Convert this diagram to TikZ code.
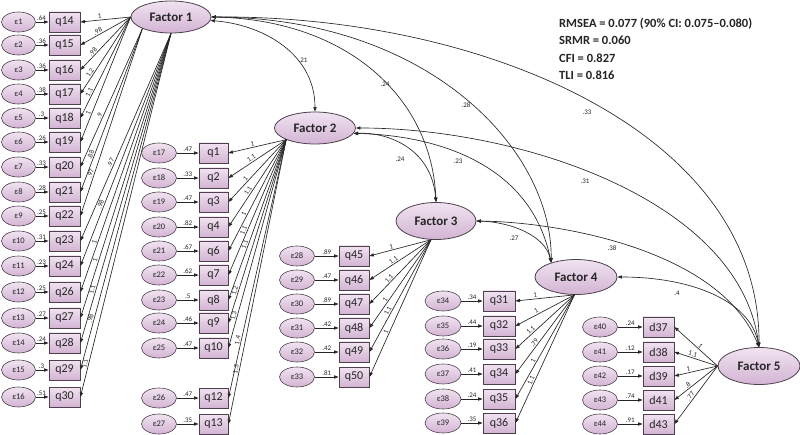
\documentclass[tikz,border=0pt]{standalone}
\usepackage{fontspec}
\setmainfont{Carlito}
\usetikzlibrary{shapes.geometric,arrows.meta}

\definecolor{shadeTop}{HTML}{F0E3F0}
\definecolor{shadeBot}{HTML}{D3B4D3}
\definecolor{rim}{HTML}{4E404E}
\definecolor{ink}{HTML}{262626}

\tikzset{
  latent/.style={ellipse, draw=rim, line width=0.8pt, top color=shadeTop, bottom color=shadeBot,
    inner sep=0pt, text=ink, font=\fontsize{13}{13}\selectfont\bfseries},
  obsbox/.style={rectangle, draw=rim, line width=0.8pt, top color=shadeTop, bottom color=shadeBot,
    minimum width=31pt, minimum height=20pt, inner sep=0pt, text=ink, font=\fontsize{12}{12}\selectfont},
  errnode/.style={ellipse, draw=rim, line width=0.6pt, top color=shadeTop, bottom color=shadeBot,
    minimum width=34pt, minimum height=20pt, inner sep=0pt, text=ink, font=\fontsize{8.5}{8.5}\selectfont},
  load/.style={draw=ink, line width=0.65pt, ->},
  covar/.style={draw=ink, line width=0.65pt, <->},
  lbl/.style={font=\fontsize{7}{7}\selectfont, inner sep=1pt, text=ink},
}

\begin{document}
\begin{tikzpicture}[x=1pt,y=-1pt,>={Triangle[length=4.5pt,width=3.2pt]}]
\useasboundingbox (0,0) rectangle (800,435);
\fill[white] (0,0) rectangle (800,435);

% latent factors
\node[latent, minimum width=80pt, minimum height=32pt] (F1) at (171,17) {Factor 1};
\node[latent, minimum width=81pt, minimum height=32pt] (F2) at (315,128) {Factor 2};
\node[latent, minimum width=80pt, minimum height=37pt] (F3) at (436,221) {Factor 3};
\node[latent, minimum width=82pt, minimum height=35pt] (F4) at (576,277) {Factor 4};
\node[latent, minimum width=82pt, minimum height=37pt] (F5) at (759,366) {Factor 5};

% Factor 1 indicators
\foreach \q/\y/\e/\ev/\ld/\an/\ps in {
  14/22/1/.64/1/west/0.61, 15/45/2/.36/.98/west/0.62, 16/70/3/.36/.98/west/0.7,
  17/94/4/.38/1.2/west/0.75, 18/118/5/.3/1.1/west/0.76, 19/142/6/.26/1/west/0.78,
  20/167/7/.33/.9/south west/0.64, 21/192/8/.28/.88/south west/0.78, 22/216/9/.25/.97/south west/0.78,
  23/241/10/.31/.97/south/0.63, 24/266/11/.23/.98/south/0.74, 26/292/12/.25/1/south/0.81,
  27/318/13/.27/1/south/0.8, 28/343/14/.24/1.1/south/0.83, 29/370/15/.3/.98/south/0.85,
  30/397/16/.51/1.1/south/0.91}
{
  \node[obsbox] (q\q) at (64.5,\y) {q\q};
  \node[errnode] (e\e) at (18.5,\y) {ε\e};
  \draw[load] (e\e) -- node[lbl, above, pos=0.45] {\ev} (q\q);
  \draw[load] (F1.\an) -- node[lbl, sloped, above, pos=\ps] {\ld} (q\q.east);
}

% Factor 2 indicators
\foreach \q/\y/\e/\ev/\ld/\ps in {
  1/153/17/.47/1/0.57, 2/178/18/.33/1.1/0.57, 3/202/19/.47/1/0.66, 4/227/20/.82/1.1/0.61,
  6/251/21/.67/1/0.68, 7/275/22/.62/1.1/0.68, 8/300/23/.5/1.1/0.66, 9/323/24/.46/1.2/0.83,
  10/348/25/.47/1.3/0.85, 12/398/26/.47/1.4/0.78, 13/424/27/.35/1.3/0.81}
{
  \node[obsbox, minimum width=29pt] (q\q) at (213.5,\y) {q\q};
  \node[errnode, minimum width=35pt] (e\e) at (159,\y) {ε\e};
  \draw[load] (e\e) -- node[lbl, above, pos=0.5] {\ev} (q\q);
  \draw[load] (F2.202) -- node[lbl, sloped, above, pos=\ps] {\ld} (q\q.east);
}

% Factor 3 indicators
\foreach \q/\y/\e/\ev/\ld/\ps in {
  45/256/28/.89/1/0.63, 46/280/29/.47/1.1/0.58, 47/304/30/.89/1.1/0.64,
  48/328/31/.42/1/0.7, 49/352/32/.42/1.1/0.65, 50/377/33/.81/1/0.68}
{
  \node[obsbox, minimum width=30pt] (q\q) at (354,\y) {q\q};
  \node[errnode, minimum width=35pt] (e\e) at (297,\y) {ε\e};
  \draw[load] (e\e) -- node[lbl, above, pos=0.5] {\ev} (q\q);
  \draw[load] (F3.255) -- node[lbl, sloped, above, pos=\ps] {\ld} (q\q.east);
}

% Factor 4 indicators
\foreach \q/\y/\e/\ev/\ld/\ps in {
  31/301/34/.34/1/0.66, 32/326/35/.44/1/0.62, 33/349/36/.19/1.1/0.7,
  34/374/37/.41/.79/0.63, 35/399/38/.24/1/0.65, 36/423/39/.35/1.1/0.68}
{
  \node[obsbox, minimum width=32pt] (q\q) at (499,\y) {q\q};
  \node[errnode, minimum width=36pt] (e\e) at (443,\y) {ε\e};
  \draw[load] (e\e) -- node[lbl, above, pos=0.5] {\ev} (q\q);
  \draw[load] (F4.265) -- node[lbl, sloped, above, pos=\ps] {\ld} (q\q.east);
}

% Factor 5 indicators
\foreach \q/\y/\e/\ev/\ld/\ps in {
  37/327/40/.24/1/0.45, 38/352/41/.12/1.1/0.6, 39/376/42/.17/1/0.66,
  41/400/43/.74/.8/0.64, 43/424/44/.91/.77/0.56}
{
  \node[obsbox] (d\q) at (658.5,\y) {d\q};
  \node[errnode, minimum width=35pt] (e\e) at (600,\y) {ε\e};
  \draw[load] (e\e) -- node[lbl, above, pos=0.5] {\ev} (d\q);
  \draw[load] (F5.west) -- node[lbl, sloped, above, pos=\ps] {\ld} (d\q.east);
}

% factor covariances
\draw[covar] (F1.-5) .. controls (265,25) and (315,55) .. (F2.north) node[lbl] at (303,60) {.21};
\draw[covar] (F1.east) .. controls (350,20) and (432,100) .. (F3.north) node[lbl] at (385,84) {.24};
\draw[covar] (F1.east) .. controls (430,18) and (552,150) .. (F4.150) node[lbl] at (466,105) {.28};
\draw[covar] (F1.east) .. controls (480,15) and (760,130) .. (F5.north) node[lbl] at (587,112) {.33};
\draw[covar] (F2.-8) .. controls (390,132) and (432,150) .. (F3.north) node[lbl] at (400,159) {.24};
\draw[covar] (F2.-8) .. controls (430,135) and (530,160) .. (F4.150) node[lbl] at (458,161) {.23};
\draw[covar] (F2.east) .. controls (520,128) and (740,200) .. (F5.north) node[lbl] at (585,181) {.31};
\draw[covar] (F3.east) .. controls (510,222) and (545,235) .. (F4.150) node[lbl] at (514,238) {.27};
\draw[covar] (F3.east) .. controls (560,222) and (720,250) .. (F5.north) node[lbl] at (612,248) {.38};
\draw[covar] (F4.east) .. controls (690,277) and (750,300) .. (F5.north) node[lbl] at (677,293) {.4};

% fit statistics
\node[font=\fontsize{12.5}{17.5}\selectfont\bfseries, text=ink, align=left, anchor=north west, inner sep=0pt]
  (fit) at (559,18) {RMSEA = 0.077 (90\% CI: 0.075–0.080)\\SRMR = 0.060\\CFI = 0.827\\TLI = 0.816};
\end{tikzpicture}
\end{document}
